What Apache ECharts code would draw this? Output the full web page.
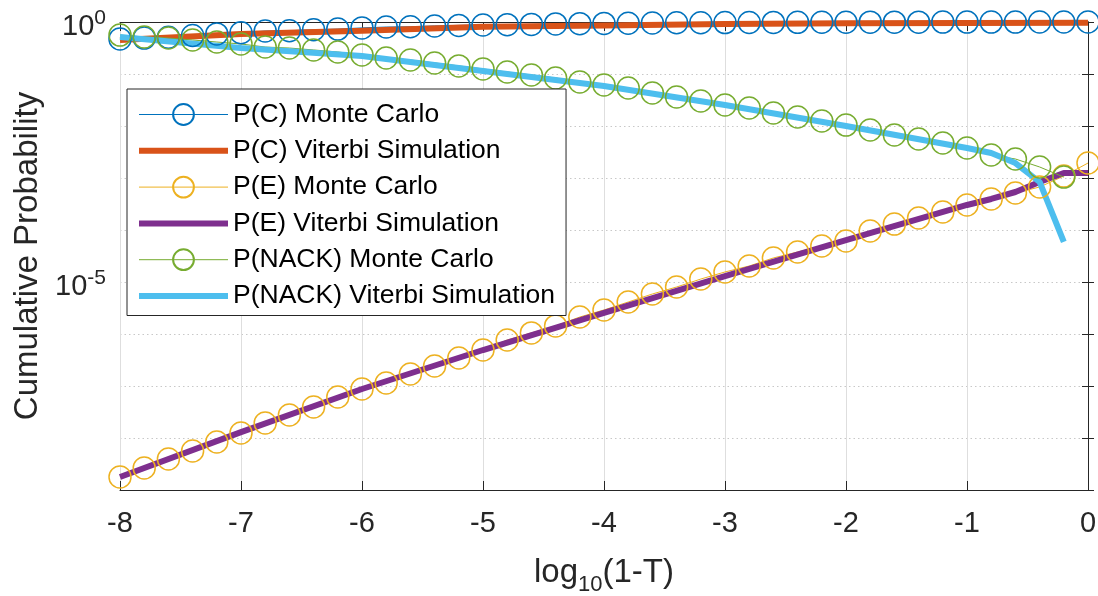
<!DOCTYPE html>
<html>
<head>
<meta charset="utf-8">
<script src="https://cdn.jsdelivr.net/npm/echarts@6/dist/echarts.min.js"></script>
<style>
  html, body { margin: 0; padding: 0; background: #fff; }
  #chart { width: 1098px; height: 596px; }
</style>
</head>
<body>
<div id="chart"></div>
<script>
// Sample points of log10(1-T)
const xMC = [-8, -7.8, -7.6, -7.4, -7.2, -7, -6.8, -6.6, -6.4, -6.2, -6, -5.8, -5.6, -5.4, -5.2,
  -5, -4.8, -4.6, -4.4, -4.2, -4, -3.8, -3.6, -3.4, -3.2, -3, -2.8, -2.6, -2.4, -2.2,
  -2, -1.8, -1.6, -1.4, -1.2, -1, -0.8, -0.6, -0.4, -0.2, 0];
const xNackMC = [-8, -7.8, -7.6, -7.4, -7.2, -7, -6.8, -6.6, -6.4, -6.2, -6, -5.8, -5.6, -5.4, -5.2,
  -5, -4.8, -4.6, -4.4, -4.2, -4, -3.8, -3.6, -3.4, -3.2, -3, -2.8, -2.6, -2.4, -2.2,
  -2, -1.8, -1.6, -1.4, -1.2, -1, -0.8, -0.6, -0.4, -0.2];
const xViterbi = [-8, -7, -6, -5, -4, -3, -2, -1, 0];
const xViterbiFine = [-8, -7, -6, -5, -4, -3, -2, -1, -0.8, -0.6, -0.4, -0.2, 0];
const xNackViterbi = [-8, -7, -6, -5, -4, -3, -2, -1, -0.8, -0.6, -0.4, -0.2];

// P(C): correct decision
const pcMonteCarlo = [0.47, 0.49, 0.51, 0.55, 0.59, 0.62, 0.67, 0.68, 0.71, 0.73, 0.77, 0.80, 0.81, 0.84, 0.86,
  0.875, 0.89, 0.90, 0.92, 0.93, 0.94, 0.945, 0.955, 0.965, 0.97, 0.975, 0.978, 0.982, 0.985, 0.987,
  0.99, 0.992, 0.993, 0.994, 0.995, 0.996, 0.997, 0.997, 0.998, 0.998, 0.998];
const pcViterbi = [0.45, 0.59, 0.68, 0.81, 0.86, 0.915, 0.944, 0.96, 0.97];

// P(E): error
const peMonteCarlo = [1.78e-9, 2.65e-9, 3.95e-9, 5.62e-9, 8.38e-9, 1.25e-8, 1.94e-8, 2.77e-8, 3.95e-8, 6.14e-8,
  8.75e-8, 1.14e-7, 1.70e-7, 2.43e-7, 3.45e-7, 4.92e-7, 7.67e-7, 1.05e-6, 1.43e-6, 2.12e-6,
  2.90e-6, 4.12e-6, 5.88e-6, 8.01e-6, 1.14e-5, 1.56e-5, 2.03e-5, 2.90e-5, 3.78e-5, 4.92e-5,
  6.14e-5, 9.57e-5, 1.30e-4, 1.70e-4, 2.22e-4, 3.03e-4, 3.95e-4, 5.15e-4, 6.71e-4, 1.09e-3, 1.94e-3];
const peViterbi = [1.78e-9, 1.30e-8, 8.75e-8, 4.92e-7, 2.54e-6, 1.30e-5, 6.42e-5, 3.03e-4, 3.95e-4, 5.38e-4, 8.38e-4, 1.25e-3, 1.25e-3];

// P(NACK): no decision
const pnackMonteCarlo = [0.56, 0.515, 0.492, 0.451, 0.412, 0.378, 0.330, 0.316, 0.290, 0.265, 0.232, 0.203, 0.186, 0.163, 0.143,
  0.125, 0.109, 0.0957, 0.0838, 0.0702, 0.0614, 0.0538, 0.0432, 0.0361, 0.0303, 0.0254, 0.0222, 0.0178, 0.0149, 0.0125,
  0.0104, 0.00837, 0.00671, 0.00562, 0.00471, 0.00378, 0.00277, 0.00232, 0.00163, 0.00104];
const pnackViterbi = [0.515, 0.316, 0.222, 0.114, 0.0588, 0.0254, 0.0100, 0.00378, 0.00303, 0.00194, 0.000838, 5.88e-5];

const seriesNames = [
  'P(C) Monte Carlo', 'P(C) Viterbi Simulation',
  'P(E) Monte Carlo', 'P(E) Viterbi Simulation',
  'P(NACK) Monte Carlo', 'P(NACK) Viterbi Simulation'
];
const colors = ['#0072BD', '#D95319', '#EDB120', '#7E2F8E', '#77AC30', '#4DBEEE'];

const FONT = '"Liberation Sans", Arial, Helvetica, sans-serif';
const AXIS_COLOR = '#262626';
const CLEAR = 'rgba(255,255,255,0)';
const THIN = 1;
const THICK = 6;

function pairs(xs, ys) { return xs.map((x, i) => [x, ys[i]]); }

// Monte Carlo runs: thin line with hollow circle markers
function markerSeries(name, xs, ys, color) {
  return {
    name, type: 'line', data: pairs(xs, ys),
    symbol: 'circle', symbolSize: 22, showAllSymbol: true, clip: false,
    lineStyle: { color, width: THIN },
    itemStyle: { color: CLEAR, borderColor: color, borderWidth: 1.5 },
    emphasis: { disabled: true }, animation: false
  };
}
// Viterbi simulation: thick plain line
function curveSeries(name, xs, ys, color) {
  return {
    name, type: 'line', data: pairs(xs, ys),
    symbol: 'none', clip: true,
    lineStyle: { color, width: THICK },
    itemStyle: { color: CLEAR, borderWidth: 0 },
    emphasis: { disabled: true }, animation: false
  };
}

function decadeLabel(v) {
  const e = Math.round(Math.log10(v));
  if (e === 0 || e === -5) return '{b|10}{s|' + e + '}';
  return '';
}

// legend entries: Monte Carlo rows use a thin line, Viterbi rows a thick one
const legendItems = seriesNames.map((name, i) => ({
  name,
  lineStyle: { width: i % 2 === 0 ? THIN : THICK, color: colors[i] }
}));

const chart = echarts.init(document.getElementById('chart'), null, { renderer: 'canvas' });
chart.setOption({
  animation: false,
  backgroundColor: '#ffffff',
  grid: { left: 120, right: 10, top: 22, bottom: 106, containLabel: false, outerBoundsMode: 'none' },
  legend: {
    data: legendItems,
    orient: 'vertical', align: 'left',
    left: 127, top: 89,
    backgroundColor: '#ffffff', borderColor: AXIS_COLOR, borderWidth: 1,
    padding: [12, 11, 6, 9],
    itemWidth: 89, itemHeight: 26, itemGap: 9.3,
    textStyle: { fontSize: 26.5, fontFamily: FONT, color: '#000' },
    selectedMode: false
  },
  xAxis: [{
    type: 'value', min: -8, max: 0, interval: 1, position: 'bottom',
    axisLine: { show: true, onZero: false, lineStyle: { color: AXIS_COLOR, width: 1 } },
    axisTick: { show: true, inside: true, length: 9, lineStyle: { color: AXIS_COLOR } },
    axisLabel: { fontSize: 29, fontFamily: FONT, color: AXIS_COLOR, margin: 19 },
    splitLine: { show: true, lineStyle: { color: '#dedede', width: 1 } },
    name: '{a|log}{b|10}{a|(1-T)}', nameLocation: 'middle', nameGap: 60,
    nameTextStyle: {
      color: AXIS_COLOR, fontFamily: FONT, fontSize: 33,
      rich: {
        a: { fontSize: 33, fontFamily: FONT, color: AXIS_COLOR },
        b: { fontSize: 22, fontFamily: FONT, color: AXIS_COLOR, padding: [24, 0, 0, 0] }
      }
    }
  }, {
    type: 'value', min: -8, max: 0, interval: 1, position: 'top',
    axisLine: { show: true, onZero: false, lineStyle: { color: AXIS_COLOR, width: 1 } },
    axisTick: { show: true, inside: true, length: 9, lineStyle: { color: AXIS_COLOR } },
    axisLabel: { show: false }, splitLine: { show: false }
  }],
  yAxis: [{
    type: 'log', logBase: 10, min: 1e-9, max: 1, splitNumber: 9, position: 'left',
    axisLine: { show: true, lineStyle: { color: AXIS_COLOR, width: 1 } },
    axisTick: { show: true, inside: true, length: 6, lineStyle: { color: AXIS_COLOR } },
    axisLabel: {
      margin: 14, formatter: decadeLabel,
      rich: {
        b: { fontSize: 29, fontFamily: FONT, color: AXIS_COLOR, padding: [10, 0, 0, 0] },
        s: { fontSize: 21, fontFamily: FONT, color: AXIS_COLOR, padding: [0, 0, 8, 0] }
      }
    },
    splitLine: { show: true, lineStyle: { color: '#c8c8c8', width: 1, type: [1.5, 3] } },
    name: 'Cumulative Probability', nameLocation: 'middle', nameGap: 76,
    nameTextStyle: { fontSize: 33, fontFamily: FONT, color: AXIS_COLOR }
  }, {
    type: 'log', logBase: 10, min: 1e-9, max: 1, splitNumber: 9, position: 'right',
    axisLine: { show: true, lineStyle: { color: AXIS_COLOR, width: 1 } },
    axisTick: { show: true, inside: true, length: 6, lineStyle: { color: AXIS_COLOR } },
    axisLabel: { show: false }, splitLine: { show: false }
  }],
  series: [
    {
      // solid major grid line at the labelled decade 10^-5
      name: 'major-grid', type: 'line', data: [], silent: true,
      markLine: {
        silent: true, symbol: 'none', animation: false,
        label: { show: false },
        lineStyle: { color: '#dedede', type: 'solid', width: 1 },
        emphasis: { disabled: true },
        data: [{ yAxis: 1e-5 }]
      }
    },
    markerSeries(seriesNames[0], xMC, pcMonteCarlo, colors[0]),
    curveSeries(seriesNames[1], xViterbi, pcViterbi, colors[1]),
    markerSeries(seriesNames[2], xMC, peMonteCarlo, colors[2]),
    curveSeries(seriesNames[3], xViterbiFine, peViterbi, colors[3]),
    markerSeries(seriesNames[4], xNackMC, pnackMonteCarlo, colors[4]),
    curveSeries(seriesNames[5], xNackViterbi, pnackViterbi, colors[5])
  ]
});
</script>
</body>
</html>
